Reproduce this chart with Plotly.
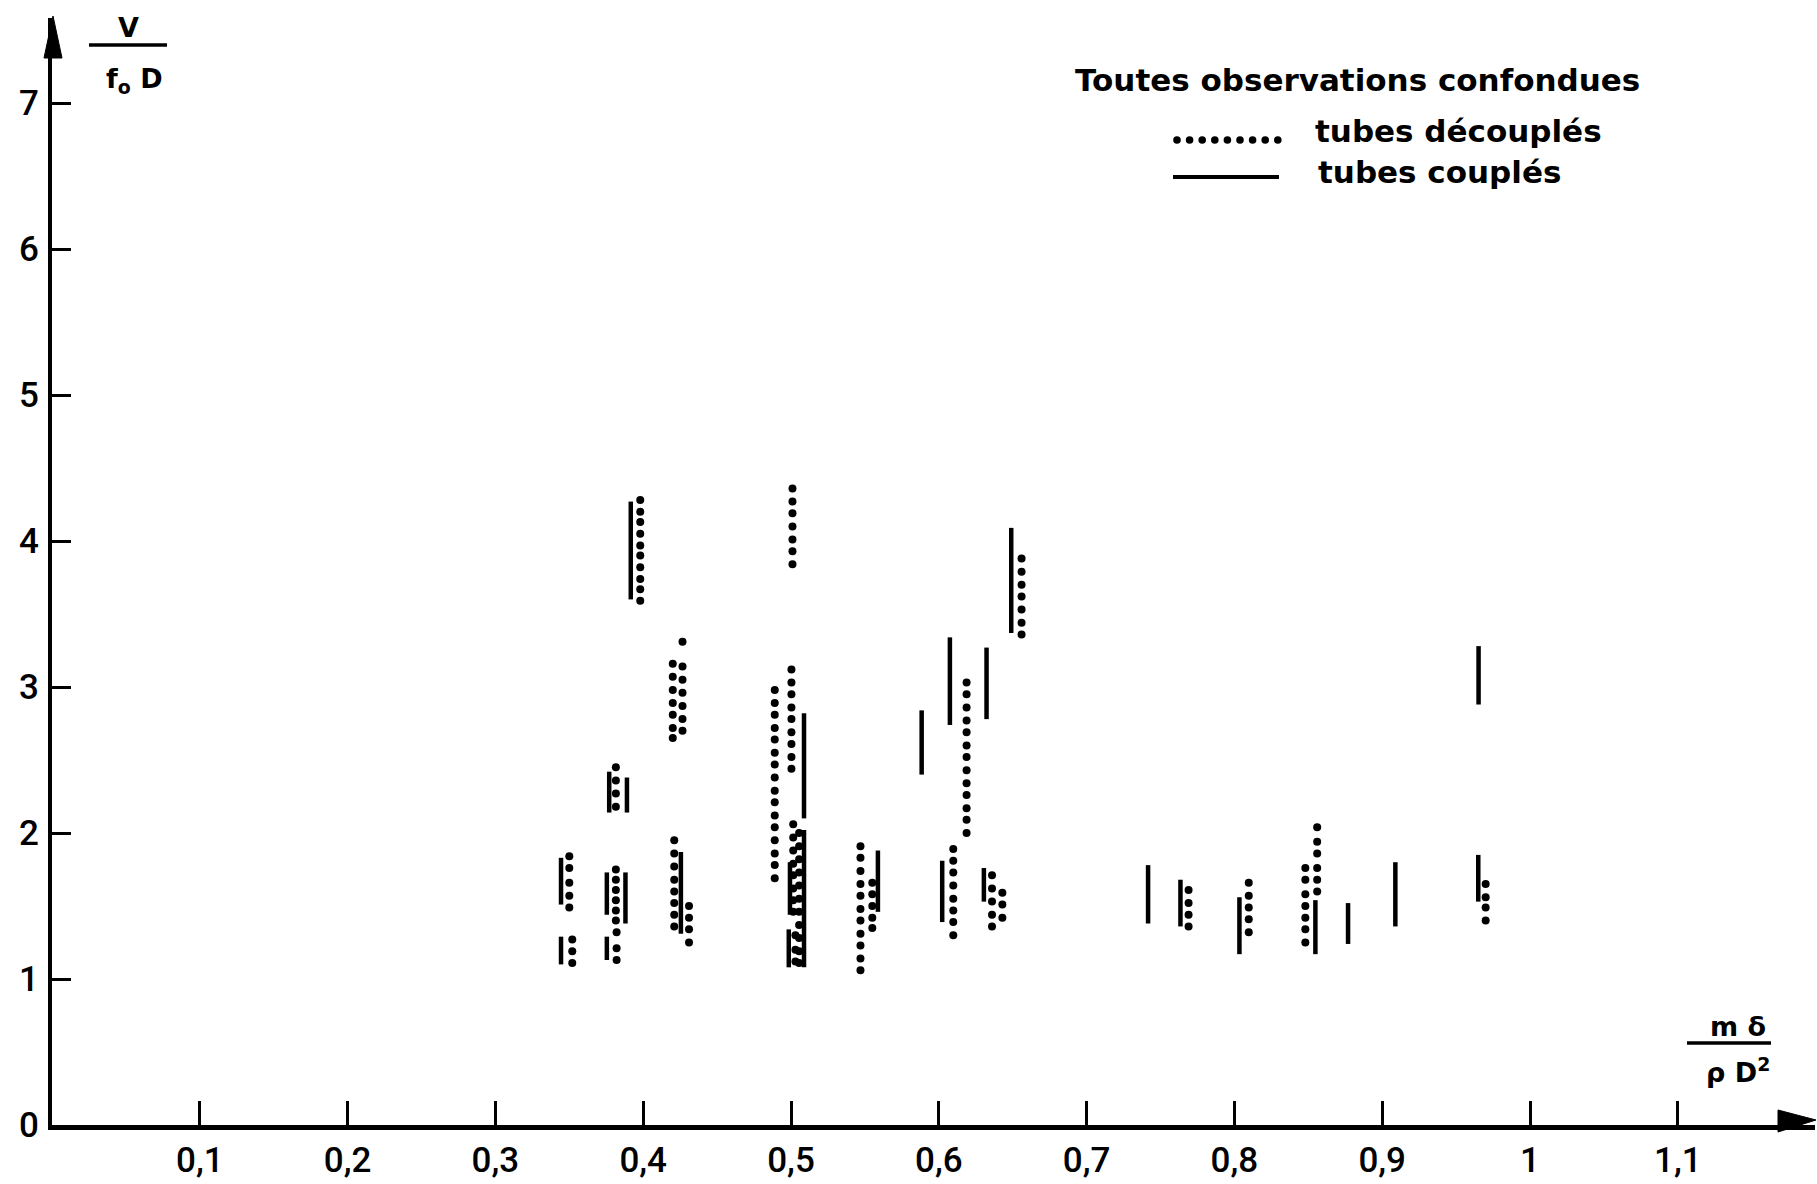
import plotly.graph_objects as go

# ---------------- data ----------------
# decoupled tubes ("tubes découplés"): columns of dots, x position and y values
dec_x = [0.350, 0.352, 0.3815, 0.3815, 0.382, 0.398, 0.420, 0.4266, 0.421, 0.431,
         0.489, 0.501, 0.5003, 0.5015, 0.5055, 0.503, 0.547, 0.555, 0.6098, 0.6188,
         0.636, 0.643, 0.656, 0.769, 0.8097, 0.848, 0.856, 0.970]
dec_y = [
    [1.84, 1.76, 1.66, 1.57, 1.49],
    [1.27, 1.19, 1.11],
    [2.45, 2.36, 2.27, 2.18],
    [1.75, 1.68, 1.61, 1.54, 1.47, 1.40],
    [1.32, 1.21, 1.13],
    [4.28, 4.20, 4.13, 4.05, 3.97, 3.90, 3.82, 3.74, 3.67, 3.59],
    [3.16, 3.07, 2.98, 2.89, 2.81, 2.72, 2.65],
    [3.31, 3.14, 3.05, 2.96, 2.87, 2.78, 2.70],
    [1.95, 1.86, 1.77, 1.68, 1.60, 1.52, 1.44, 1.36],
    [1.50, 1.42, 1.34, 1.25],
    [2.98, 2.89, 2.81, 2.72, 2.64, 2.55, 2.47, 2.38, 2.29, 2.21, 2.12, 2.04, 1.95, 1.86, 1.78, 1.69],
    [4.36, 4.27, 4.19, 4.10, 4.01, 3.93, 3.84],
    [3.12, 3.03, 2.95, 2.86, 2.78, 2.69, 2.61, 2.52, 2.44],
    [2.06, 1.97, 1.88, 1.79, 1.71, 1.62, 1.54, 1.46],
    [2.00, 1.91, 1.82, 1.73, 1.64, 1.55, 1.46, 1.37, 1.28, 1.19, 1.11],
    [1.30, 1.20, 1.12],
    [1.91, 1.83, 1.74, 1.65, 1.57, 1.48, 1.40, 1.31, 1.23, 1.14, 1.06],
    [1.66, 1.58, 1.50, 1.42, 1.35],
    [1.89, 1.81, 1.73, 1.64, 1.55, 1.47, 1.39, 1.30],
    [3.03, 2.95, 2.86, 2.77, 2.69, 2.60, 2.52, 2.43, 2.34, 2.26, 2.17, 2.09, 2.00],
    [1.71, 1.62, 1.53, 1.44, 1.36],
    [1.59, 1.51, 1.42],
    [3.88, 3.79, 3.70, 3.62, 3.53, 3.44, 3.36],
    [1.61, 1.52, 1.44, 1.36],
    [1.66, 1.57, 1.49, 1.41, 1.32],
    [1.76, 1.68, 1.58, 1.50, 1.42, 1.34, 1.25],
    [2.04, 1.94, 1.86, 1.76, 1.68, 1.60],
    [1.65, 1.56, 1.49, 1.40],
]

# coupled tubes ("tubes couplés"): vertical segments x, y_low, y_high
cpl_x  = [0.3444, 0.3444, 0.377, 0.389, 0.3754, 0.388, 0.3754, 0.3916, 0.4255, 0.4993,
          0.5088, 0.5088, 0.4985, 0.5588, 0.5884, 0.6075, 0.6023, 0.6323, 0.6305, 0.649,
          0.7416, 0.7635, 0.8034, 0.8548, 0.8769, 0.9089, 0.9652, 0.9650]
cpl_lo = [1.51, 1.10, 2.14, 2.14, 1.44, 1.38, 1.13, 3.60, 1.31, 1.44,
          2.10, 1.08, 1.08, 1.46, 2.40, 2.74, 1.39, 2.78, 1.53, 3.37,
          1.38, 1.36, 1.17, 1.17, 1.24, 1.36, 2.88, 1.53]
cpl_hi = [1.83, 1.29, 2.42, 2.38, 1.73, 1.73, 1.29, 4.27, 1.87, 1.80,
          2.82, 2.02, 1.34, 1.88, 2.84, 3.34, 1.81, 3.27, 1.76, 4.09,
          1.78, 1.68, 1.56, 1.54, 1.52, 1.80, 3.28, 1.85]

x_tick_vals = [0.1, 0.2, 0.3, 0.4, 0.5, 0.6, 0.7, 0.8, 0.9, 1.0, 1.1]
x_tick_text = ["0,1", "0,2", "0,3", "0,4", "0,5", "0,6", "0,7", "0,8", "0,9", "1", "1,1"]
y_tick_vals = [0, 1, 2, 3, 4, 5, 6, 7]
y_tick_text = ["0", "1", "2", "3", "4", "5", "6", "7"]

title_text = "Toutes observations confondues"
legend_dec = "tubes découplés"
legend_cpl = "tubes couplés"

# ---------------- layout geometry ----------------
FW, FH = 1817, 1184
L, R, T, B = 52, 2, 18, 59
PW, PH = FW - L - R, FH - T - B
X_PX_PER_UNIT = 1478.0
Y_PX_PER_UNIT = 146.0
x_max = PW / X_PX_PER_UNIT
y_max = PH / Y_PX_PER_UNIT


def px(xp):
    return (xp - L) / PW


def py(yp):
    return (FH - B - yp) / PH


FONT_TXT = "DejaVu Sans, Noto Sans, sans-serif"
FONT_NUM = "Roboto, Noto Sans, sans-serif"

# ---------------- traces ----------------
dx, dy = [], []
for xv, ys in zip(dec_x, dec_y):
    for yv in ys:
        dx.append(xv)
        dy.append(yv)

cx, cy = [], []
for xv, lo, hi in zip(cpl_x, cpl_lo, cpl_hi):
    cx += [xv, xv, None]
    cy += [lo, hi, None]

fig = go.Figure()
fig.add_trace(go.Scatter(x=cx, y=cy, mode="lines",
                         line=dict(color="black", width=4.5),
                         hoverinfo="skip", showlegend=False, cliponaxis=False))
fig.add_trace(go.Scatter(x=dx, y=dy, mode="markers",
                         marker=dict(color="black", size=8, line=dict(width=0)),
                         showlegend=False, cliponaxis=False))

# ---------------- shapes: arrows, fraction bars, legend samples ----------------
shapes = []
shapes.append(dict(type="path", xref="paper", yref="paper",
                   path=f"M {px(53)} {py(16)} L {px(44)} {py(58)} L {px(62)} {py(58)} Z",
                   fillcolor="black", line=dict(color="black", width=1)))
shapes.append(dict(type="path", xref="paper", yref="paper",
                   path=f"M {px(1816)} {py(1120)} L {px(1778)} {py(1110)} L {px(1778)} {py(1132)} Z",
                   fillcolor="black", line=dict(color="black", width=1)))
shapes.append(dict(type="line", xref="paper", yref="paper",
                   x0=px(89), x1=px(167), y0=py(45), y1=py(45),
                   line=dict(color="black", width=3.5)))
shapes.append(dict(type="line", xref="paper", yref="paper",
                   x0=px(1687), x1=px(1771), y0=py(1043), y1=py(1043),
                   line=dict(color="black", width=3.5)))
shapes.append(dict(type="line", xref="paper", yref="paper",
                   x0=px(1173), x1=px(1279), y0=py(177), y1=py(177),
                   line=dict(color="black", width=4)))
for i in range(9):
    cxp = 1177 + i * 12.6
    shapes.append(dict(type="circle", xref="paper", yref="paper",
                       xsizemode="pixel", ysizemode="pixel",
                       xanchor=px(cxp), yanchor=py(140),
                       x0=-3.8, x1=3.8, y0=-3.8, y1=3.8,
                       fillcolor="black", line=dict(width=0)))

# ---------------- annotations ----------------
ann = []


def add_text(text, xp, yp, size, family=FONT_TXT, xanchor="left", weight="bold"):
    ann.append(dict(text=text, x=px(xp), y=py(yp), xref="paper", yref="paper",
                    xanchor=xanchor, yanchor="middle", showarrow=False,
                    font=dict(family=family, size=size, color="black", weight=weight)))


add_text(title_text, 1073, 80, 31)
add_text(legend_dec, 1313, 131, 31)
add_text(legend_cpl, 1316, 172, 31)
add_text("V", 128, 28, 27, xanchor="center")
add_text("f<sub>o</sub> D", 134, 80, 27, xanchor="center")
add_text("m δ", 1738, 1026, 27, xanchor="center")
add_text("ρ D<sup>2</sup>", 1738, 1070, 27, xanchor="center")

fig.update_layout(
    width=FW, height=FH,
    margin=dict(l=L, r=R, t=T, b=B, pad=0),
    paper_bgcolor="white", plot_bgcolor="white",
    shapes=shapes, annotations=ann,
    xaxis=dict(range=[0, x_max], showgrid=False, zeroline=False,
               showline=True, linecolor="black", linewidth=5,
               ticks="inside", ticklen=24, tickwidth=3, tickcolor="black",
               tickvals=x_tick_vals, ticktext=x_tick_text,
               tickfont=dict(family=FONT_NUM, size=35, color="black", weight=500),
               ticklabelstandoff=0),
    yaxis=dict(range=[0, y_max], showgrid=False, zeroline=False,
               showline=True, linecolor="black", linewidth=4,
               ticks="inside", ticklen=19, tickwidth=3, tickcolor="black",
               tickvals=y_tick_vals, ticktext=y_tick_text,
               tickfont=dict(family=FONT_NUM, size=35, color="black", weight=500),
               ticklabelstandoff=2),
)

fig.write_html("out.html")
